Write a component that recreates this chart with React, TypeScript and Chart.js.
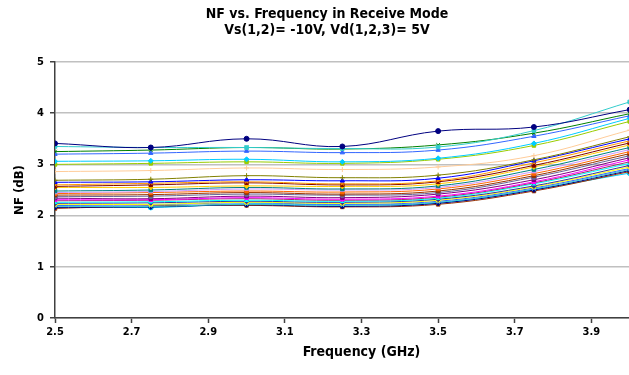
import React, { useEffect, useRef } from "react";
import { Chart, registerables } from "chart.js";

Chart.register(...registerables);

const freqs = [2.5, 2.75, 3.0, 3.25, 3.5, 3.75, 4.0];
const xTicks = [2.5, 2.7, 2.9, 3.1, 3.3, 3.5, 3.7, 3.9];
const yTicks = [0, 1, 2, 3, 4, 5];

const s01 = [3.41, 3.33, 3.5, 3.35, 3.65, 3.73, 4.07];
const s02 = [3.35, 3.33, 3.33, 3.31, 3.34, 3.66, 4.22];
const s03 = [3.25, 3.28, 3.33, 3.3, 3.38, 3.61, 3.99];
const s04 = [3.2, 3.22, 3.26, 3.23, 3.28, 3.55, 3.95];
const s05 = [3.06, 3.07, 3.1, 3.05, 3.12, 3.41, 3.9];
const s06 = [3.0, 3.02, 3.05, 3.02, 3.1, 3.37, 3.84];
const s07 = [2.86, 2.88, 2.93, 2.9, 2.95, 3.17, 3.67];
const s08 = [2.69, 2.71, 2.78, 2.74, 2.79, 3.09, 3.54];
const s09 = [2.65, 2.66, 2.7, 2.68, 2.73, 3.07, 3.5];
const s10 = [2.6, 2.63, 2.66, 2.62, 2.68, 3.03, 3.46];
const s11 = [2.57, 2.6, 2.64, 2.6, 2.66, 2.98, 3.42];
const s12 = [2.55, 2.55, 2.58, 2.57, 2.62, 2.95, 3.38];
const s13 = [2.48, 2.5, 2.55, 2.52, 2.58, 2.9, 3.33];
const s14 = [2.45, 2.47, 2.52, 2.5, 2.55, 2.86, 3.29];
const s15 = [2.43, 2.45, 2.48, 2.46, 2.52, 2.82, 3.25];
const s16 = [2.4, 2.41, 2.45, 2.42, 2.48, 2.78, 3.21];
const s17 = [2.37, 2.38, 2.42, 2.4, 2.45, 2.75, 3.17];
const s18 = [2.34, 2.33, 2.38, 2.35, 2.42, 2.7, 3.13];
const s19 = [2.31, 2.31, 2.35, 2.32, 2.38, 2.66, 3.09];
const s20 = [2.29, 2.3, 2.33, 2.3, 2.36, 2.64, 3.05];
const s21 = [2.26, 2.27, 2.3, 2.28, 2.34, 2.62, 3.02];
const s22 = [2.24, 2.25, 2.28, 2.26, 2.32, 2.58, 2.98];
const s23 = [2.22, 2.22, 2.26, 2.24, 2.3, 2.56, 2.95];
const s24 = [2.2, 2.21, 2.25, 2.22, 2.28, 2.54, 2.92];
const s25 = [2.18, 2.18, 2.22, 2.2, 2.26, 2.52, 2.9];
const s26 = [2.16, 2.17, 2.21, 2.18, 2.24, 2.5, 2.88];
const s27 = [2.14, 2.19, 2.2, 2.17, 2.22, 2.48, 2.86];
const s28 = [2.2, 2.16, 2.23, 2.21, 2.25, 2.51, 2.83];

const seriesValues = [
  s01, s02, s03, s04, s05, s06, s07, s08, s09, s10, s11, s12, s13, s14,
  s15, s16, s17, s18, s19, s20, s21, s22, s23, s24, s25, s26, s27, s28,
];

const seriesColors = [
  "#000080", "#33CCCC", "#008000", "#3366FF", "#00CCFF", "#99CC00", "#FFCC99",
  "#808000", "#0000FF", "#FF9900", "#800000", "#FFCC00", "#008080", "#CC99FF",
  "#FF6600", "#993300", "#666699", "#800080", "#FF00FF", "#993366", "#00FFFF",
  "#333399", "#FFFF00", "#3366FF", "#33CCCC", "#000080", "#993300", "#00CCFF",
];

const seriesMarkers = [
  "circle", "rect", "crossRot", "triangle", "rectRot", "rect", "cross",
  "cross", "triangle", "crossRot", "rect", "rectRot", "rect", "triangle",
  "rect", "rect", "circle", "rect", "rect", "crossRot", "triangle",
  "rectRot", "rect", "triangle", "crossRot", "rectRot", "rect", "circle",
];

const titleLines = ["NF vs. Frequency in Receive Mode", "Vs(1,2)= -10V, Vd(1,2,3)= 5V"];
const FONT = "'DejaVu Sans Condensed', 'DejaVu Sans', sans-serif";

const titlePlugin = {
  id: "customTitle",
  afterDraw(chart: any) {
    const ctx = chart.ctx;
    ctx.save();
    ctx.fillStyle = "#000";
    ctx.font = `bold 14px ${FONT}`;
    ctx.textAlign = "center";
    ctx.textBaseline = "middle";
    ctx.fillText(titleLines[0], 327, 14);
    ctx.fillText(titleLines[1], 327, 30);
    ctx.restore();
  },
};

export default function App() {
  const ref = useRef<HTMLCanvasElement | null>(null);
  useEffect(() => {
    if (!ref.current) return;
    const datasets = seriesValues.map((vals, i) => ({
      label: `S${i + 1}`,
      data: vals.map((v, j) => ({ x: freqs[j], y: v })),
      borderColor: seriesColors[i],
      backgroundColor: seriesColors[i],
      borderWidth: 1,
      pointStyle: seriesMarkers[i] as any,
      pointRadius: 2.5,
      pointBorderWidth: 1,
      tension: 0.4,
    }));
    const chart = new Chart(ref.current, {
      type: "line",
      data: { datasets },
      plugins: [titlePlugin],
      options: {
        animation: false,
        responsive: false,
        layout: { padding: { top: 62, left: 0, right: 0, bottom: 0 } },
        plugins: { legend: { display: false }, title: { display: false }, tooltip: { enabled: false } },
        scales: {
          x: {
            type: "linear",
            min: 2.5,
            max: 4.1,
            afterBuildTicks: (scale: any) => {
              scale.ticks = [...xTicks, 4.1].map((v) => ({ value: v }));
            },
            afterFit: (scale: any) => {
              scale.height = 57;
            },
            ticks: {
              autoSkip: false,
              maxRotation: 0,
              padding: 3,
              color: "#000",
              font: { family: FONT, size: 11, weight: "bold" },
              callback: (v: any) => (Number(v) > 3.95 ? "" : Number(v).toFixed(1)),
            },
            grid: { drawOnChartArea: false, drawTicks: true, tickLength: 5, tickColor: "#404040", tickWidth: 1.5 },
            border: { color: "#404040", width: 1.5 },
            title: {
              display: true,
              text: "Frequency (GHz)",
              color: "#000",
              font: { family: FONT, size: 14, weight: "bold" },
              padding: { top: 0, bottom: 14 },
            },
          },
          y: {
            min: 0,
            max: 5,
            afterBuildTicks: (scale: any) => {
              scale.ticks = yTicks.map((v) => ({ value: v }));
            },
            afterFit: (scale: any) => {
              scale.width = 55;
            },
            ticks: {
              padding: 6,
              color: "#000",
              font: { family: FONT, size: 11, weight: "bold" },
            },
            grid: { color: "#C0C0C0", lineWidth: 1.5, tickLength: 5, tickColor: "#404040", tickWidth: 1.5 },
            border: { color: "#404040", width: 1.5 },
            title: {
              display: true,
              text: "NF (dB)",
              color: "#000",
              font: { family: FONT, size: 13, weight: "bold" },
              padding: { top: 12, bottom: 0 },
            },
          },
        },
      },
    });
    return () => chart.destroy();
  }, []);
  return (
    <div style={{ position: "fixed", left: 0, top: 0, width: 629, height: 375, overflow: "hidden", background: "#fff" }}>
      <canvas ref={ref} width={673} height={375} style={{ width: 673, height: 375, display: "block" }} />
    </div>
  );
}
